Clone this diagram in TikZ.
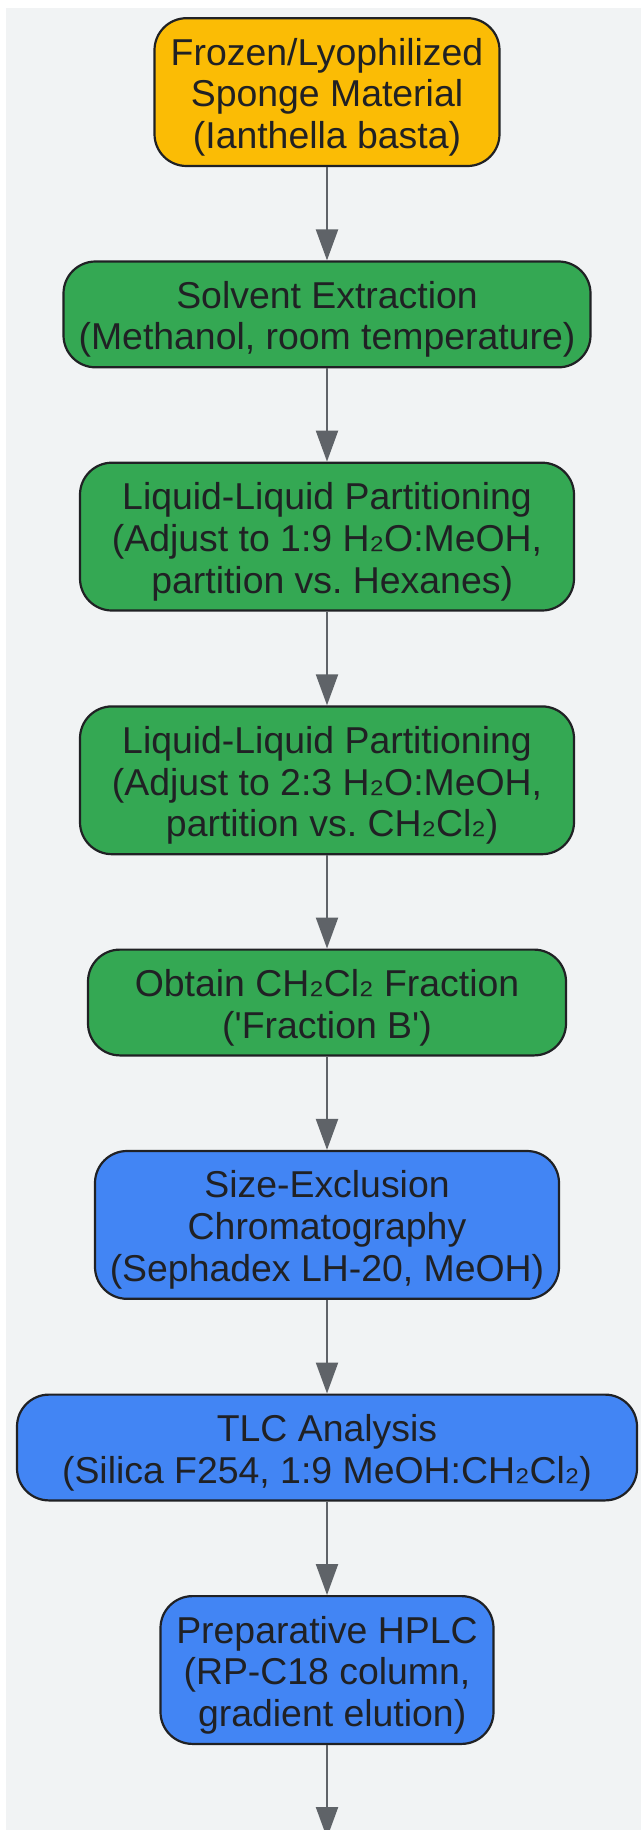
\documentclass[tikz,border=0pt]{standalone}
\usepackage{fontspec}
\newfontfamily\labelfont{Liberation Sans}
\usetikzlibrary{arrows.meta}
\definecolor{bgc}{HTML}{F1F3F4}
\definecolor{inkc}{HTML}{202124}
\definecolor{edgec}{HTML}{5F6368}
\definecolor{yel}{HTML}{FBBC05}
\definecolor{grn}{HTML}{34A853}
\definecolor{blu}{HTML}{4285F4}
\newcommand\subtwo{\raisebox{3pt}{₂}}
\newcommand\lift{\rule{0pt}{37.2pt}}
\tikzset{
  x=1pt,y=1pt,
  stage/.style={draw=inkc,line width=2.2pt,rounded corners=32pt,text=inkc,align=center,
    font=\labelfont\frenchspacing\fontsize{37.4}{41.7}\selectfont,inner sep=0pt,minimum height=105.8pt},
  tall/.style={minimum height=147.8pt},
  flow/.style={draw=edgec,line width=2.2pt,-{Triangle[length=31pt,width=22pt,fill=edgec]}}
}
\begin{document}
\begin{tikzpicture}
\useasboundingbox (0,0) rectangle (643,-1830);
\fill[bgc] (6,-8) rectangle (641,-1830);
\node[stage,tall,fill=yel,minimum width=345pt] (n1) at (327,-92.1) {\lift Frozen/Lyophilized\\Sponge Material\\(Ianthella basta)};
\node[stage,fill=grn,minimum width=527pt] (n2) at (327,-314.4) {\lift Solvent Extraction\\(Methanol, room temperature)};
\node[stage,tall,fill=grn,minimum width=494pt] (n3) at (327,-536.6) {\lift Liquid-Liquid Partitioning\\(Adjust to 1:9 H\subtwo O:MeOH,\\~partition vs. Hexanes)};
\node[stage,tall,fill=grn,minimum width=494pt] (n4) at (327,-780.3) {\lift Liquid-Liquid Partitioning\\(Adjust to 2:3 H\subtwo O:MeOH,\\~partition vs. CH\subtwo Cl\subtwo)};
\node[stage,fill=grn,minimum width=478pt] (n5) at (327,-1002.5) {\lift Obtain CH\subtwo Cl\subtwo{} Fraction\\('Fraction B')};
\node[stage,tall,fill=blu,minimum width=464pt] (n6) at (327,-1224.9) {\lift Size-Exclusion\\Chromatography\\(Sephadex LH-20, MeOH)};
\node[stage,fill=blu,minimum width=620pt] (n7) at (327,-1447.5) {\lift TLC Analysis\\(Silica F254, 1:9 MeOH:CH\subtwo Cl\subtwo)};
\node[stage,tall,fill=blu,minimum width=333pt] (n8) at (327,-1670) {\lift Preparative HPLC\\(RP-C18 column,\\~gradient elution)};
\coordinate (out) at (327,-1838);
\draw[flow] (n1) -- (n2);
\draw[flow] (n2) -- (n3);
\draw[flow] (n3) -- (n4);
\draw[flow] (n4) -- (n5);
\draw[flow] (n5) -- (n6);
\draw[flow] (n6) -- (n7);
\draw[flow] (n7) -- (n8);
\draw[flow] (n8) -- (out);
\end{tikzpicture}
\end{document}
